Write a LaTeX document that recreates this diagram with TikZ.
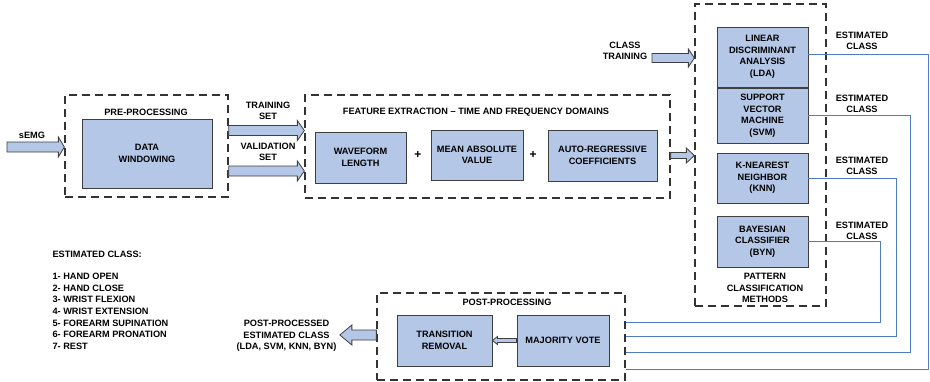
\documentclass[tikz,border=0pt]{standalone}
\usepackage{fontspec}
\setmainfont{Liberation Sans}
\definecolor{BoxBlue}{HTML}{B4C7E7}
\definecolor{LineBlue}{HTML}{4F7CC4}
\definecolor{EdgeGray}{HTML}{3F3F3F}
\usetikzlibrary{calc}
% wide outlined arrow: start, end, half shaft, half head, head length
\newcommand{\FatArrow}[5]{\draw[fat] let \p1=(#1), \p2=(#2) in
    ({\x1},{\y1+#3}) -- ({\x2-(#5)},{\y1+#3}) -- ({\x2-(#5)},{\y1+#4}) -- ({\x2},{\y1})
    -- ({\x2-(#5)},{\y1-#4}) -- ({\x2-(#5)},{\y1-#3}) -- ({\x1},{\y1-#3}) -- cycle;}
\begin{document}
\begin{tikzpicture}[x=1pt,y=-1pt,
    every node/.style={font=\bfseries\fontsize{9.2}{11.5}\selectfont, align=center},
    block/.style={draw=EdgeGray, fill=BoxBlue, line width=0.9pt, inner sep=0pt},
    group/.style={draw=black!80, dash pattern=on 8pt off 5pt, line width=1.3pt, inner sep=0pt},
    fat/.style={draw=EdgeGray, fill=BoxBlue, line width=0.8pt},
    conn/.style={draw=LineBlue, line width=1pt}]
    \useasboundingbox (0,0) rectangle (930,381);
    % dashed stages
    \node[group, minimum width=163pt, minimum height=102pt] (pre) at (146.5,146) {};
    \node[group, minimum width=365pt, minimum height=103pt] (feat) at (487.5,146.5) {};
    \node[group, minimum width=131pt, minimum height=302pt] (pat) at (760.5,155) {};
    \node[group, minimum width=248pt, minimum height=87pt] (post) at (501,336.5) {};
    \node at (146,112) {PRE-PROCESSING};
    \node at (476,112) {FEATURE EXTRACTION -- TIME AND FREQUENCY DOMAINS};
    \node at (765,288) {PATTERN\\CLASSIFICATION\\METHODS};
    \node at (507,302) {POST-PROCESSING};

    % processing blocks
    \node[block, minimum width=130pt, minimum height=69pt] (win) at (147,153.5) {DATA\\WINDOWING};
    \node[block, minimum width=91pt, minimum height=51pt] (wl) at (360.5,157.5) {WAVEFORM\\LENGTH};
    \node[block, minimum width=92pt, minimum height=50pt] (mav) at (477,155) {MEAN ABSOLUTE\\VALUE};
    \node[block, minimum width=109pt, minimum height=51pt] (ar) at (602.5,155.5) {AUTO-REGRESSIVE\\COEFFICIENTS};
    \node[font=\bfseries\fontsize{12}{12}\selectfont] at (418,155) {+};
    \node[font=\bfseries\fontsize{12}{12}\selectfont] at (533,155) {+};
    \node[block, minimum width=91pt, minimum height=60pt] (lda) at (762.5,57) {LINEAR\\DISCRIMINANT\\ANALYSIS\\(LDA)};
    \node[block, minimum width=91pt, minimum height=55pt] (svm) at (762.5,115.5) {SUPPORT\\VECTOR\\MACHINE\\(SVM)};
    \node[block, minimum width=91pt, minimum height=50pt] (knn) at (762.5,178) {K-NEAREST\\NEIGHBOR\\(KNN)};
    \node[block, minimum width=91pt, minimum height=51pt] (byn) at (762.5,241.5) {BAYESIAN\\CLASSIFIER\\(BYN)};
    \node[block, minimum width=95pt, minimum height=51pt] (trans) at (444.5,340.5) {TRANSITION\\REMOVAL};
    \node[block, minimum width=92pt, minimum height=51pt] (maj) at (563,340.5) {MAJORITY VOTE};

    % arrow labels
    \node (semg) at (32,135) {sEMG};
    \node (train) at (268,111) {TRAINING\\SET};
    \node (valid) at (268,152) {VALIDATION\\SET};
    \node (ct) at (625,51) {CLASS\\TRAINING};
    \node (ppc) at (286.5,336) {POST-PROCESSED\\ESTIMATED CLASS\\(LDA, SVM, KNN, BYN)};
    \node at (862,41) {ESTIMATED\\CLASS};
    \node at (862,104) {ESTIMATED\\CLASS};
    \node at (862,166) {ESTIMATED\\CLASS};
    \node at (862,231) {ESTIMATED\\CLASS};

    % wide arrows
    \coordinate (semgin) at (7,147);
    \coordinate (ctin) at (652,58);
    \FatArrow{semgin}{pre.west}{5pt}{10pt}{6pt}
    \FatArrow{[yshift=15.5pt]pre.east}{feat.west}{5pt}{10pt}{7pt}
    \FatArrow{[yshift=-25pt]pre.east}{feat.west}{5pt}{10pt}{7pt}
    \FatArrow{feat.east |- ar.east}{pat.west}{3pt}{7.5pt}{8pt}
    \FatArrow{ctin}{pat.west}{4.5pt}{9pt}{6pt}
    \FatArrow{maj.west}{trans.east}{2pt}{4pt}{-5pt}
    \FatArrow{[yshift=1.5pt]post.west}{ppc.east}{5pt}{10pt}{-12pt}

    % estimated class lines back to post-processing
    \coordinate (e1) at (928,369);
    \coordinate (e2) at (910,352);
    \coordinate (e3) at (896,336);
    \coordinate (e4) at (880,322);
    \draw[conn] ([yshift=3pt]lda.east) -| (e1) -- (e1 -| post.east);
    \draw[conn] ([yshift=0.5pt]svm.east) -| (e2) -- (e2 -| post.east);
    \draw[conn] (knn.east) -| (e3) -- (e3 -| post.east);
    \draw[conn] ([yshift=0.5pt]byn.east) -| (e4) -- (e4 -| post.east);

    % legend
    \node[anchor=west] at (49,254) {ESTIMATED CLASS:};
    \foreach \lbl [count=\i] in {HAND OPEN, HAND CLOSE, WRIST FLEXION, WRIST EXTENSION,
        FOREARM SUPINATION, FOREARM PRONATION, REST} {
        \node[anchor=west] at (49,{265+11.6*\i}) {\i- \lbl};
    }
\end{tikzpicture}
\end{document}
